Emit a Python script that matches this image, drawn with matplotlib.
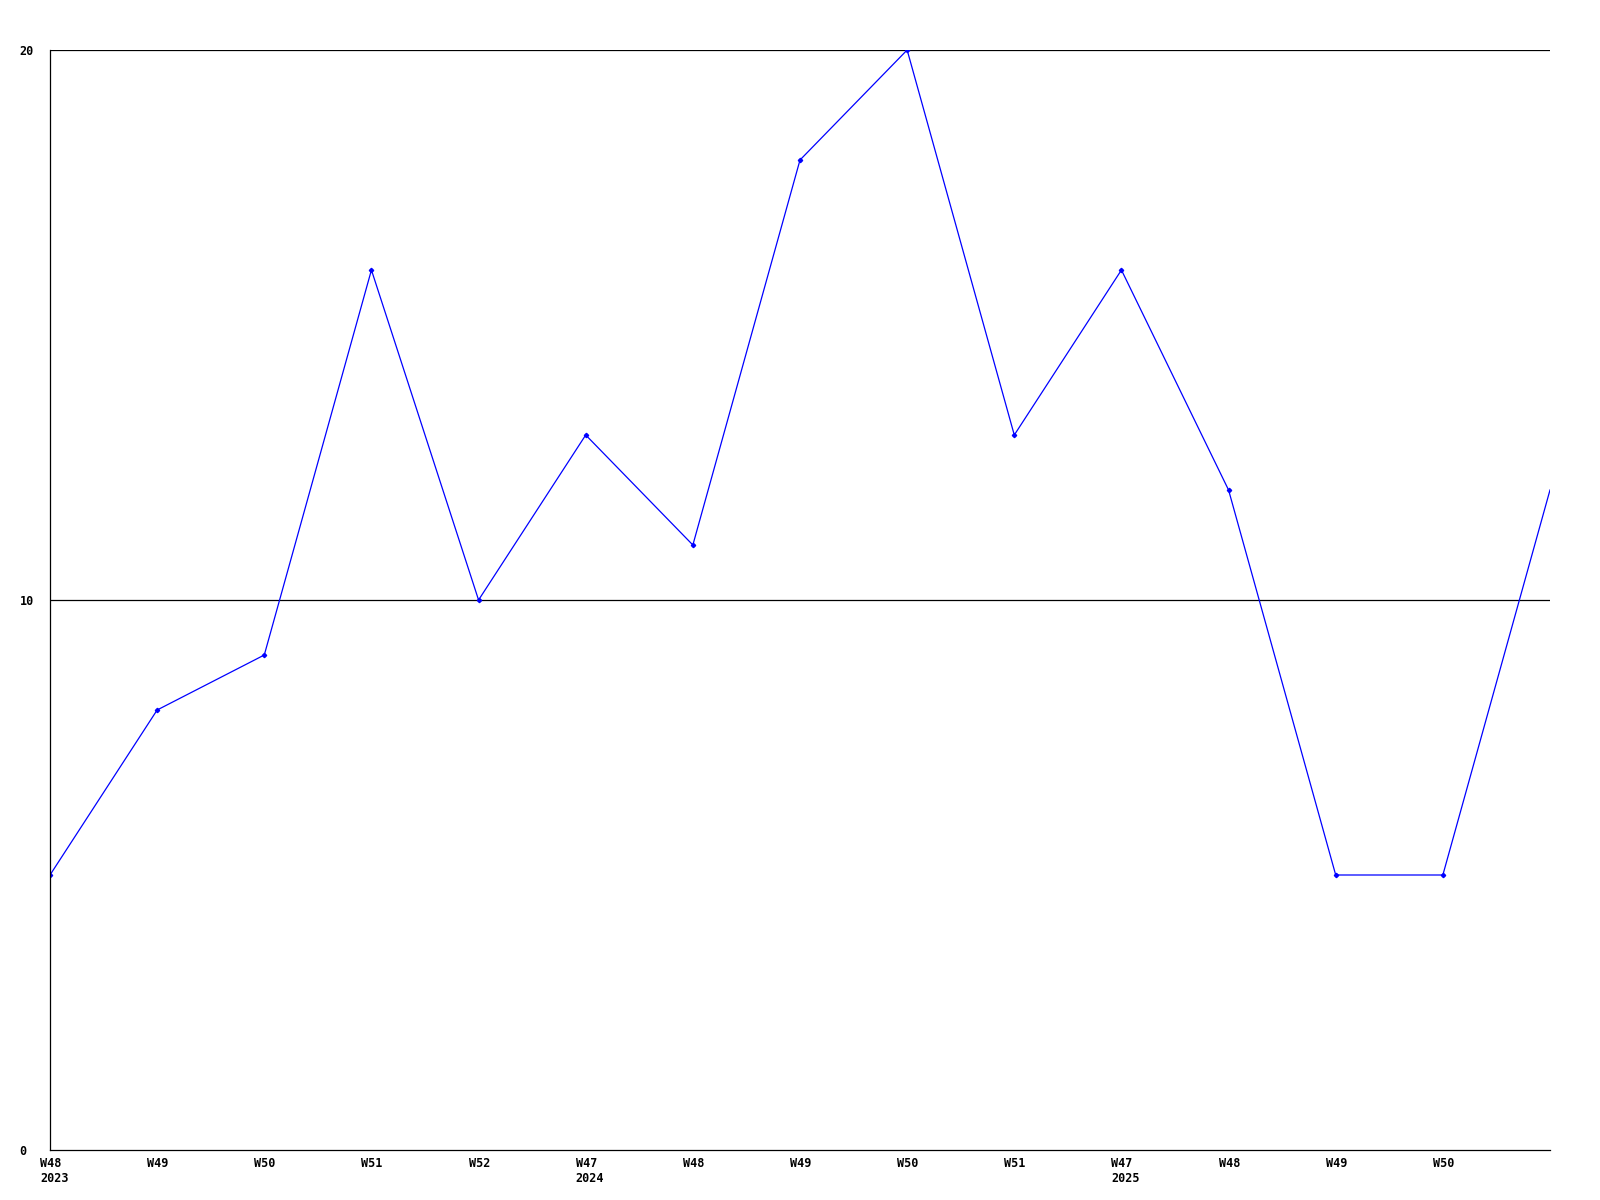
import matplotlib
matplotlib.use("Agg")
import matplotlib.pyplot as plt
from matplotlib.transforms import ScaledTranslation

# weekly values, last point has no label
labels = ["W48\n2023", "W49", "W50", "W51", "W52", "W47\n2024", "W48", "W49",
          "W50", "W51", "W47\n2025", "W48", "W49", "W50", ""]
values = [5, 8, 9, 16, 10, 13, 11, 18, 20, 13, 16, 12, 5, 5, 12]

x = list(range(len(values)))

fig = plt.figure(figsize=(16, 12), dpi=100)
ax = fig.add_axes([50 / 1600, 50 / 1200, 1500 / 1600, 1100 / 1200])

ax.plot(x, values, color="#0000ff", lw=0.9)
ax.plot(x[:-1], values[:-1], ls="none", marker="D", ms=2.2, color="#0000ff")

ax.set_xlim(0, len(values) - 1)
ax.set_ylim(0, 20)

for yv in (10, 20):
    ax.axhline(yv, color="black", lw=0.9, zorder=0)

for s in ("top", "right"):
    ax.spines[s].set_visible(False)
for s in ("left", "bottom"):
    ax.spines[s].set_linewidth(0.9)

font = dict(family="DejaVu Sans Mono", weight="bold", size=8.5)

ax.set_yticks([0, 10, 20])
ax.set_yticklabels(["0", "10", "20"], fontdict=font, ha="left")
ax.tick_params(axis="y", length=0, pad=22)

ax.set_xticks(x)
ax.set_xticklabels(labels, fontdict=font, ha="left", linespacing=1.2)
ax.tick_params(axis="x", length=0, pad=5)
shift = ScaledTranslation(-10 / 100, 0, fig.dpi_scale_trans)
for lab in ax.get_xticklabels():
    lab.set_transform(lab.get_transform() + shift)

fig.savefig("out.png", dpi=100)
